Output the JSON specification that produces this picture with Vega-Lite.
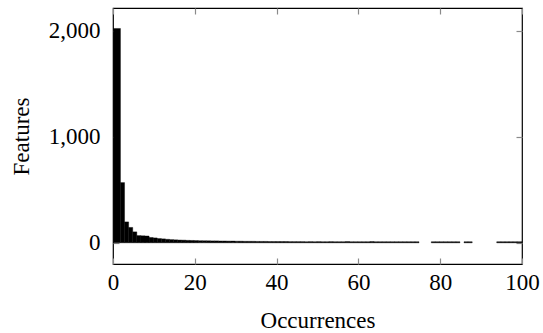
{
  "$schema": "https://vega.github.io/schema/vega-lite/v6.json",
  "autosize": "none",
  "width": 409,
  "height": 256,
  "padding": {"left": 113, "top": 8, "right": 21, "bottom": 69},
  "background": "white",
  "config": {
    "view": {"stroke": "black", "strokeWidth": 1.2},
    "font": "Liberation Serif",
    "axis": {
      "labelFont": "Liberation Serif",
      "titleFont": "Liberation Serif",
      "labelFontSize": 23,
      "titleFontSize": 23,
      "titleFontWeight": "normal",
      "labelColor": "black",
      "titleColor": "black",
      "domain": false,
      "grid": false,
      "tickColor": "#8a8a8a",
      "tickWidth": 1.2
    }
  },
  "data": {
    "values": [
      {"lo": 0, "hi": 1.7, "features": 2022},
      {"lo": 1.7, "hi": 2.7, "features": 568},
      {"lo": 2.7, "hi": 3.7, "features": 197},
      {"lo": 3.7, "hi": 4.7, "features": 145},
      {"lo": 4.7, "hi": 5.7, "features": 103},
      {"lo": 5.7, "hi": 6.7, "features": 68},
      {"lo": 6.7, "hi": 7.7, "features": 66},
      {"lo": 7.7, "hi": 8.7, "features": 64},
      {"lo": 8.7, "hi": 9.7, "features": 50},
      {"lo": 9.7, "hi": 10.7, "features": 46},
      {"lo": 10.7, "hi": 11.7, "features": 40},
      {"lo": 11.7, "hi": 12.7, "features": 37},
      {"lo": 12.7, "hi": 13.7, "features": 33},
      {"lo": 13.7, "hi": 14.7, "features": 30},
      {"lo": 14.7, "hi": 15.7, "features": 28},
      {"lo": 15.7, "hi": 16.7, "features": 26},
      {"lo": 16.7, "hi": 17.7, "features": 25},
      {"lo": 17.7, "hi": 18.7, "features": 23},
      {"lo": 18.7, "hi": 19.7, "features": 22},
      {"lo": 19.7, "hi": 20.7, "features": 21},
      {"lo": 20.7, "hi": 21.7, "features": 20},
      {"lo": 21.7, "hi": 22.7, "features": 19},
      {"lo": 22.7, "hi": 23.7, "features": 19},
      {"lo": 23.7, "hi": 24.7, "features": 18},
      {"lo": 24.7, "hi": 25.7, "features": 18},
      {"lo": 25.7, "hi": 26.7, "features": 17},
      {"lo": 26.7, "hi": 27.7, "features": 17},
      {"lo": 27.7, "hi": 28.7, "features": 16},
      {"lo": 28.7, "hi": 29.7, "features": 16},
      {"lo": 29.7, "hi": 30.7, "features": 15},
      {"lo": 30.7, "hi": 31.7, "features": 15},
      {"lo": 31.7, "hi": 32.7, "features": 14},
      {"lo": 32.7, "hi": 33.7, "features": 14},
      {"lo": 33.7, "hi": 34.7, "features": 14},
      {"lo": 34.7, "hi": 35.7, "features": 13},
      {"lo": 35.7, "hi": 36.7, "features": 13},
      {"lo": 36.7, "hi": 37.7, "features": 13},
      {"lo": 37.7, "hi": 38.7, "features": 12},
      {"lo": 38.7, "hi": 39.7, "features": 12},
      {"lo": 39.7, "hi": 40.7, "features": 12},
      {"lo": 40.7, "hi": 41.7, "features": 12},
      {"lo": 41.7, "hi": 42.7, "features": 12},
      {"lo": 42.7, "hi": 43.7, "features": 11},
      {"lo": 43.7, "hi": 44.7, "features": 11},
      {"lo": 44.7, "hi": 45.7, "features": 11},
      {"lo": 45.7, "hi": 46.7, "features": 11},
      {"lo": 46.7, "hi": 47.7, "features": 10},
      {"lo": 47.7, "hi": 48.7, "features": 11},
      {"lo": 48.7, "hi": 49.7, "features": 10},
      {"lo": 49.7, "hi": 50.7, "features": 11},
      {"lo": 50.7, "hi": 51.7, "features": 10},
      {"lo": 51.7, "hi": 52.7, "features": 10},
      {"lo": 52.7, "hi": 53.7, "features": 11},
      {"lo": 53.7, "hi": 54.7, "features": 10},
      {"lo": 54.7, "hi": 55.7, "features": 10},
      {"lo": 55.7, "hi": 56.7, "features": 10},
      {"lo": 56.7, "hi": 57.7, "features": 12},
      {"lo": 57.7, "hi": 58.7, "features": 10},
      {"lo": 58.7, "hi": 59.7, "features": 10},
      {"lo": 59.7, "hi": 60.7, "features": 10},
      {"lo": 60.7, "hi": 61.7, "features": 10},
      {"lo": 61.7, "hi": 62.7, "features": 10},
      {"lo": 62.7, "hi": 63.7, "features": 12},
      {"lo": 63.7, "hi": 64.7, "features": 10},
      {"lo": 64.7, "hi": 65.7, "features": 10},
      {"lo": 65.7, "hi": 66.7, "features": 10},
      {"lo": 66.7, "hi": 67.7, "features": 10},
      {"lo": 67.7, "hi": 68.7, "features": 10},
      {"lo": 68.7, "hi": 69.7, "features": 10},
      {"lo": 69.7, "hi": 70.7, "features": 10},
      {"lo": 70.7, "hi": 71.7, "features": 10},
      {"lo": 71.7, "hi": 72.7, "features": 10},
      {"lo": 72.7, "hi": 73.7, "features": 10},
      {"lo": 73.7, "hi": 74.7, "features": 10},
      {"lo": 77.7, "hi": 78.7, "features": 10},
      {"lo": 78.7, "hi": 79.7, "features": 10},
      {"lo": 79.7, "hi": 80.7, "features": 10},
      {"lo": 80.7, "hi": 81.7, "features": 10},
      {"lo": 81.7, "hi": 82.7, "features": 10},
      {"lo": 82.7, "hi": 83.7, "features": 10},
      {"lo": 83.7, "hi": 84.7, "features": 10},
      {"lo": 85.7, "hi": 86.7, "features": 10},
      {"lo": 86.7, "hi": 87.7, "features": 10},
      {"lo": 93.7, "hi": 94.7, "features": 10},
      {"lo": 94.7, "hi": 95.7, "features": 10},
      {"lo": 95.7, "hi": 96.7, "features": 10},
      {"lo": 96.7, "hi": 97.7, "features": 10},
      {"lo": 97.7, "hi": 98.7, "features": 10},
      {"lo": 98.7, "hi": 99.7, "features": 10},
      {"lo": 99.7, "hi": 100, "features": 10}
    ]
  },
  "layer": [
    {
      "mark": {"type": "bar", "color": "black", "clip": true, "binSpacing": 0, "stroke": "black", "strokeWidth": 0.4},
      "encoding": {
        "x": {
          "field": "lo", "type": "quantitative", "bin": "binned",
          "scale": {"domain": [0, 100], "nice": false},
          "axis": {"orient": "bottom", "title": "Occurrences", "values": [0, 20, 40, 60, 80, 100],
                   "tickSize": -6, "labelPadding": 13, "titlePadding": 15, "labelFlush": false}
        },
        "x2": {"field": "hi"},
        "y": {
          "field": "features", "type": "quantitative",
          "scale": {"domain": [-200, 2215], "nice": false, "zero": false},
          "axis": {"orient": "left", "title": "Features", "values": [0, 1000, 2000], "format": ",.0f",
                   "tickSize": -6, "labelPadding": 19, "titlePadding": 15}
        },
        "y2": {"datum": 0}
      }
    },
    {
      "mark": {"type": "bar", "opacity": 0, "clip": true, "binSpacing": 0},
      "encoding": {
        "x": {
          "field": "lo", "type": "quantitative", "bin": "binned",
          "axis": {"orient": "top", "title": null, "labels": false, "values": [0, 20, 40, 60, 80, 100], "tickSize": -6}
        },
        "x2": {"field": "hi"},
        "y": {
          "field": "features", "type": "quantitative",
          "axis": {"orient": "right", "title": null, "labels": false, "values": [0, 1000, 2000], "tickSize": -6}
        },
        "y2": {"datum": 0}
      }
    }
  ],
  "resolve": {"axis": {"x": "independent", "y": "independent"}}
}
